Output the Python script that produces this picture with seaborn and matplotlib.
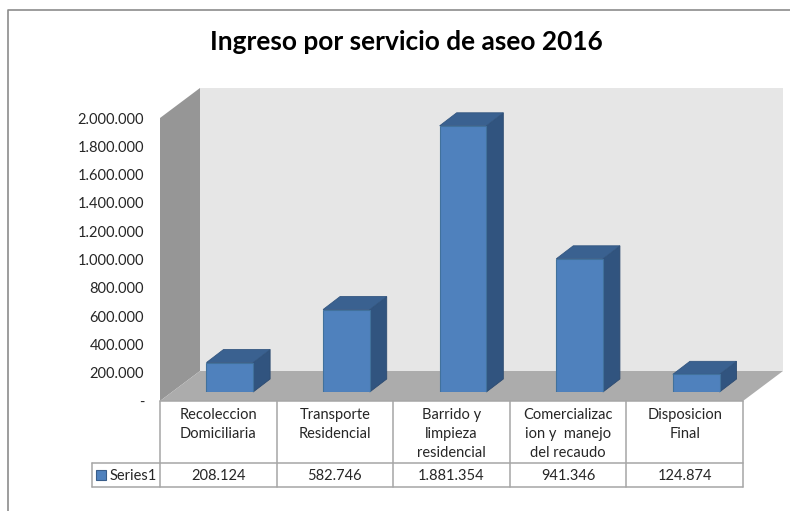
import matplotlib
matplotlib.use('Agg')
import matplotlib.pyplot as plt
import seaborn as sns
import pandas as pd
from matplotlib.patches import Polygon, Rectangle
from matplotlib.ticker import FuncFormatter
from matplotlib.transforms import IdentityTransform

categorias = ['Recoleccion\nDomiciliaria', 'Transporte\nResidencial', 'Barrido y\nlimpieza\nresidencial',
              'Comercializac\nion y  manejo\ndel recaudo', 'Disposicion\nFinal']
valores = [208124, 582746, 1881354, 941346, 124874]
etiquetas = ['208.124', '582.746', '1.881.354', '941.346', '124.874']
ticks = [0, 200000, 400000, 600000, 800000, 1000000, 1200000, 1400000, 1600000, 1800000, 2000000]

W, H = 790, 511

sns.set_theme(style='white')
plt.rcParams['font.family'] = ['Lato', 'DejaVu Sans']

fig = plt.figure(figsize=(W / 100, H / 100), dpi=100, facecolor='white')


# caja en pixeles de la imagen (y hacia abajo)
def caja(x0, y0, x1, y1):
    return [x0 / W, 1 - y1 / H, (x1 - x0) / W, (y1 - y0) / H]


# capa de fondo en pixeles: marco, paredes y tabla
fondo = fig.add_axes([0, 0, 1, 1])
fondo.set_xlim(0, W)
fondo.set_ylim(H, 0)
fondo.axis('off')

x0, x1, y0, y1 = 160, 743, 118, 401
prof_x, prof_y = 40, 30
gris = '#A6A6A6'

fondo.plot([7.5, 7.5, 790], [511, 10.5, 10.5], color='#8C8C8C', lw=1.2)
fondo.add_patch(Polygon([(x0 + prof_x, y0 - prof_y), (x1 + prof_x, y0 - prof_y),
                         (x1 + prof_x, y1 - prof_y), (x0 + prof_x, y1 - prof_y)], fc='#E6E6E6', ec='none'))
fondo.add_patch(Polygon([(x0, y0), (x0 + prof_x, y0 - prof_y), (x0 + prof_x, y1 - prof_y), (x0, y1)],
                        fc='#969696', ec='none'))
fondo.add_patch(Polygon([(x0, y1), (x0 + prof_x, y1 - prof_y), (x1 + prof_x, y1 - prof_y), (x1, y1)],
                        fc='#ACACAC', ec='none'))

# tabla de datos
ancho = (x1 - x0) / len(categorias)
fila1, fila2 = 463, 487
fondo.plot([x0, x1], [y1, y1], color=gris, lw=1.1)
fondo.plot([92, x1], [fila1, fila1], color=gris, lw=1.1)
fondo.plot([92, x1], [fila2, fila2], color=gris, lw=1.1)
fondo.plot([92, 92], [fila1, fila2], color=gris, lw=1.1)
for i in range(len(categorias) + 1):
    xi = x0 + i * ancho
    fondo.plot([xi, xi], [y1, fila2], color=gris, lw=1.1)
for i, (c, e) in enumerate(zip(categorias, etiquetas)):
    xc = x0 + (i + 0.5) * ancho
    fondo.text(xc, 408, c, ha='center', va='top', fontsize=10.5, color='#262626', linespacing=1.44)
    fondo.text(xc, fila1 + 12.5, e, ha='center', va='center', fontsize=10.5, color='#262626')
fondo.add_patch(Rectangle((96, 470), 10, 10, fc='#4F81BD', ec='#385D8A', lw=0.8))
fondo.text(110, fila1 + 12.5, 'Series1', ha='left', va='center', fontsize=10.5, color='#262626')

fondo.text(406, 42, 'Ingreso por servicio de aseo 2016', ha='center', va='center',
           fontsize=18.9, fontweight='bold', color='black')

# eje frontal solo para las marcas del eje y
eje = fig.add_axes(caja(x0, y0, x1, y1))
eje.patch.set_alpha(0)
eje.set_ylim(0, 2000000)
eje.set_xticks([])
eje.set_yticks(ticks)
eje.yaxis.set_major_formatter(FuncFormatter(
    lambda v, p: '-' if v == 0 else f'{int(v):,}'.replace(',', '.')))
eje.tick_params(axis='y', length=0, pad=11.5, labelsize=10.5, labelcolor='#262626')
sns.despine(ax=eje, left=True, bottom=True)

# las barras van sobre el suelo, desplazadas respecto al plano frontal
dx, dy = 11.5, 9
ax = fig.add_axes(caja(x0 + dx, y0 - dy, x1 + dx, y1 - dy))
ax.patch.set_alpha(0)
df = pd.DataFrame({'categoria': categorias, 'valor': valores})
sns.barplot(data=df, x='categoria', y='valor', color='#4F81BD', saturation=1, width=0.4,
            edgecolor='#41719C', linewidth=0.8, ax=ax, zorder=3)
ax.set_ylim(0, 2000000)
ax.set_xlim(-0.5, 4.5)
ax.axis('off')

# caras laterales y superiores de cada barra
fig.canvas.draw()
fx, fy = 17, 13
for barra in ax.patches:
    bb = barra.get_window_extent()
    a, b, c, d = bb.x0, bb.x1, bb.y0, bb.y1
    ax.add_patch(Polygon([(b, c), (b + fx, c + fy), (b + fx, d + fy), (b, d)], transform=IdentityTransform(),
                         fc='#31547F', ec='#2C4A70', lw=0.6, clip_on=False, zorder=2))
    ax.add_patch(Polygon([(a, d), (a + fx, d + fy), (b + fx, d + fy), (b, d)], transform=IdentityTransform(),
                         fc='#3A6190', ec='#335680', lw=0.6, clip_on=False, zorder=2))

fig.savefig('out.png', dpi=100)
